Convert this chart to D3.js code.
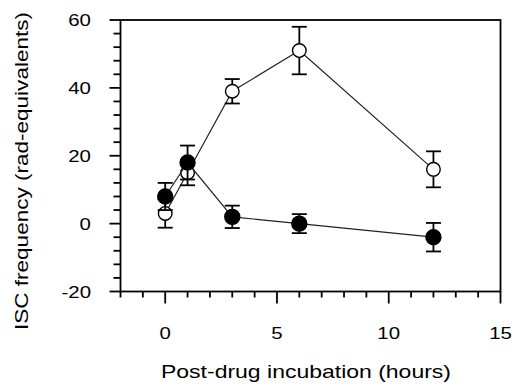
<!DOCTYPE html>
<html>
<head>
<meta charset="utf-8">
<script src="https://cdn.jsdelivr.net/npm/d3@7"></script>
<style>
  body { margin: 0; background: #fff; }
  text { font-family: "Liberation Sans", Arial, sans-serif; fill: #000; }
</style>
</head>
<body>
<div id="chart"></div>
<script>
// hours after drug removal
const hours = [0, 1, 3, 6, 12];
// open circles
const openMean = [3, 15, 39, 51, 16];
const openErr = [4.2, 3.7, 3.6, 7, 5.3];
// filled circles
const filledMean = [8, 18, 2, 0, -4];
const filledErr = [4, 5, 3.3, 2.8, 4.2];

const xTicks = [0, 5, 10, 15];
const yTicks = [-20, 0, 20, 40, 60];

const WIDTH = 514;
const HEIGHT = 384;

const svg = d3.select("#chart")
    .append("svg")
    .attr("width", WIDTH)
    .attr("height", HEIGHT);

const x = d3.scaleLinear().domain([-2, 15]).range([120.5, 500.5]);
const y = d3.scaleLinear().domain([-20, 60]).range([291.5, 20]);

// the old plotting program drew its text rather wide
function widen(sel, k) {
    sel.each(function () {
        const w = this.getComputedTextLength();
        d3.select(this)
            .attr("textLength", w * k)
            .attr("lengthAdjust", "spacingAndGlyphs");
    });
}

// frame
svg.append("rect")
    .attr("x", x(-2)).attr("y", y(60))
    .attr("width", x(15) - x(-2)).attr("height", y(-20) - y(60))
    .attr("fill", "none").attr("stroke", "#000").attr("stroke-width", 1.8);

// x ticks: every hour, longer at multiples of 5
const xMinor = d3.range(-2, 16, 1);
svg.selectAll(".xtick")
    .data(xMinor)
    .join("line")
    .attr("x1", d => x(d)).attr("x2", d => x(d))
    .attr("y1", y(-20))
    .attr("y2", d => y(-20) + (d % 5 === 0 ? 12 : 6))
    .attr("stroke", "#000").attr("stroke-width", 1.8);

svg.selectAll(".xlabel")
    .data(xTicks)
    .join("text")
    .attr("x", d => x(d))
    .attr("y", 339)
    .attr("text-anchor", "middle")
    .attr("font-size", 17)
    .text(d => d)
    .call(widen, 1.2);

// y ticks: every 4, longer at multiples of 20
const yMinor = d3.range(-20, 61, 4);
svg.selectAll(".ytick")
    .data(yMinor)
    .join("line")
    .attr("y1", d => y(d)).attr("y2", d => y(d))
    .attr("x1", x(-2))
    .attr("x2", d => x(-2) - (d % 20 === 0 ? 11 : 7))
    .attr("stroke", "#000").attr("stroke-width", 1.8);

svg.selectAll(".ylabel")
    .data(yTicks)
    .join("text")
    .attr("x", 91)
    .attr("y", d => y(d) + 6)
    .attr("text-anchor", "end")
    .attr("font-size", 17)
    .text(d => d)
    .call(widen, 1.2);

// axis titles
svg.append("text")
    .attr("x", 306).attr("y", 378)
    .attr("text-anchor", "middle")
    .attr("font-size", 19)
    .attr("textLength", 290)
    .attr("lengthAdjust", "spacingAndGlyphs")
    .text("Post-drug incubation (hours)");

svg.append("text")
    .attr("transform", "translate(28,171) rotate(-90)")
    .attr("text-anchor", "middle")
    .attr("font-size", 19)
    .attr("textLength", 318)
    .attr("lengthAdjust", "spacingAndGlyphs")
    .text("ISC frequency (rad-equivalents)");

const line = d3.line()
    .x(d => x(d[0]))
    .y(d => y(d[1]));

function drawSeries(means, errs, filled) {
    const pts = hours.map((h, i) => [h, means[i], errs[i]]);

    svg.append("path")
        .datum(pts)
        .attr("d", line)
        .attr("fill", "none")
        .attr("stroke", "#222")
        .attr("stroke-width", 1.2);

    const g = svg.append("g");
    const bars = g.selectAll("g")
        .data(pts)
        .join("g");
    bars.append("line")
        .attr("x1", d => x(d[0])).attr("x2", d => x(d[0]))
        .attr("y1", d => y(d[1] + d[2])).attr("y2", d => y(d[1] - d[2]))
        .attr("stroke", "#000").attr("stroke-width", 1.8);
    bars.selectAll(".cap")
        .data(d => [[d[0], d[1] + d[2]], [d[0], d[1] - d[2]]])
        .join("line")
        .attr("x1", d => x(d[0]) - 7.5).attr("x2", d => x(d[0]) + 7.5)
        .attr("y1", d => y(d[1])).attr("y2", d => y(d[1]))
        .attr("stroke", "#000").attr("stroke-width", 1.8);

    g.selectAll("circle")
        .data(pts)
        .join("circle")
        .attr("cx", d => x(d[0]))
        .attr("cy", d => y(d[1]))
        .attr("r", filled ? 7.5 : 6.8)
        .attr("fill", filled ? "#000" : "#fff")
        .attr("stroke", "#000")
        .attr("stroke-width", 1.4);
}

drawSeries(openMean, openErr, false);
drawSeries(filledMean, filledErr, true);
</script>
</body>
</html>
